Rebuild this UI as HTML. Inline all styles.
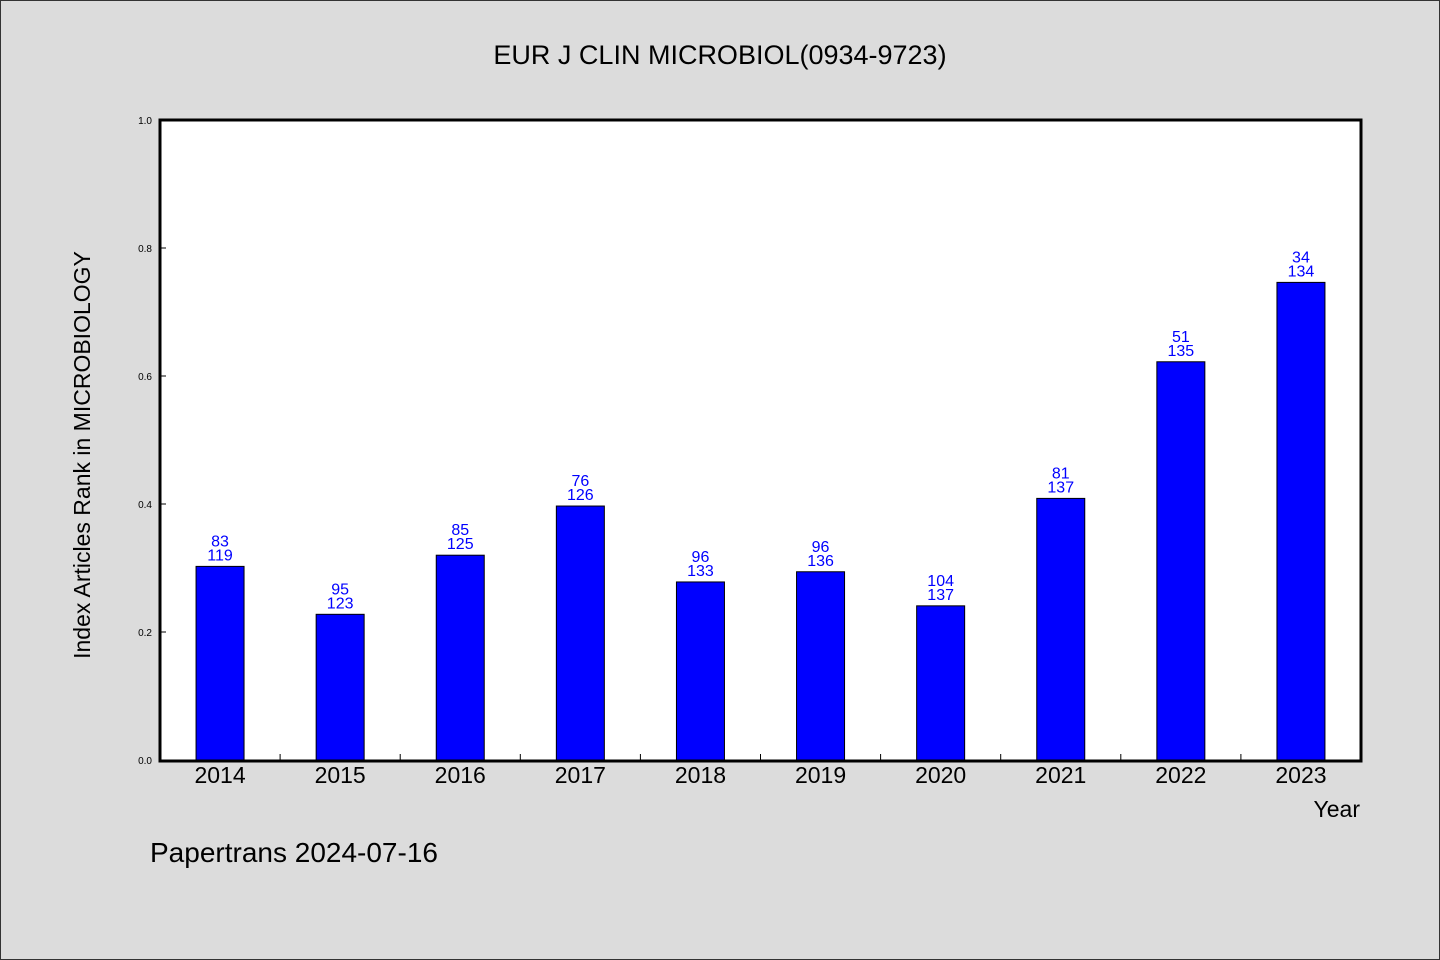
<!DOCTYPE html>
<html><head><meta charset="utf-8"><style>
body{margin:0;background:#dcdcdc;}
svg{display:block;font-family:"WenQuanYi Zen Hei","Liberation Sans",sans-serif;}
</style></head><body>
<svg id="c" width="1440" height="960">
<rect x="0.5" y="0.5" width="1439" height="959" fill="#dcdcdc" stroke="#333"/>
<text x="720" y="64" font-size="27" text-anchor="middle">EUR J CLIN MICROBIOL(0934-9723)</text>
<rect x="160" y="120" width="1201" height="641" fill="#fff" stroke="#000" stroke-width="3"/>
<text transform="translate(90,455) rotate(-90)" font-size="23" text-anchor="middle">Index Articles Rank in MICROBIOLOGY</text>
<text x="1360" y="817" font-size="23" text-anchor="end">Year</text>
<text x="150" y="862" font-size="28">Papertrans 2024-07-16</text>
<g id="g"></g>
</svg>
<script>
const years=["2014","2015","2016","2017","2018","2019","2020","2021","2022","2023"];
const ranks=[83,95,85,76,96,96,104,81,51,34];
const totals=[119,123,125,126,133,136,137,137,135,134];
const yTicks=[0,0.2,0.4,0.6,0.8,1.0];
const X0=160,W=1201,Y0=760,H=640,NS="http://www.w3.org/2000/svg";
const g=document.getElementById('g');
const xc=i=>X0+W/years.length*(i+0.5);
const y=v=>Y0-v*H;
function mk(t,a,txt){const e=document.createElementNS(NS,t);for(const k in a)e.setAttribute(k,a[k]);if(txt!=null)e.textContent=txt;g.appendChild(e);return e;}
yTicks.forEach(v=>{
 const l=mk('line',{x1:160,x2:166,y1:y(v),y2:y(v),stroke:'#000'});
 
 
 const t=mk('text',{x:152,y:y(v)+4,'font-size':10,'text-anchor':'end'},v.toFixed(1));
 
 
});
years.forEach((yr,i)=>{
 if(i>0){const l=mk('line',{x1:X0+W/years.length*i,x2:X0+W/years.length*i,y1:754,y2:760,stroke:'#000'});
 
 }
 const v=1-ranks[i]/totals[i];
 const r=mk('rect',{x:xc(i)-24,y:y(v),width:48,height:v*H,fill:'#0000ff',stroke:'#000'});
 
 
 const a=mk('text',{x:xc(i),y:y(v)-20,'font-size':16,fill:'#0000ff','text-anchor':'middle'},ranks[i]);
 
 
 const b=mk('text',{x:xc(i),y:y(v)-6,'font-size':16,fill:'#0000ff','text-anchor':'middle'},totals[i]);
 
 
 const t=mk('text',{x:xc(i),y:783,'font-size':23,'text-anchor':'middle'},yr);
 
 
});
</script>
</body></html>
